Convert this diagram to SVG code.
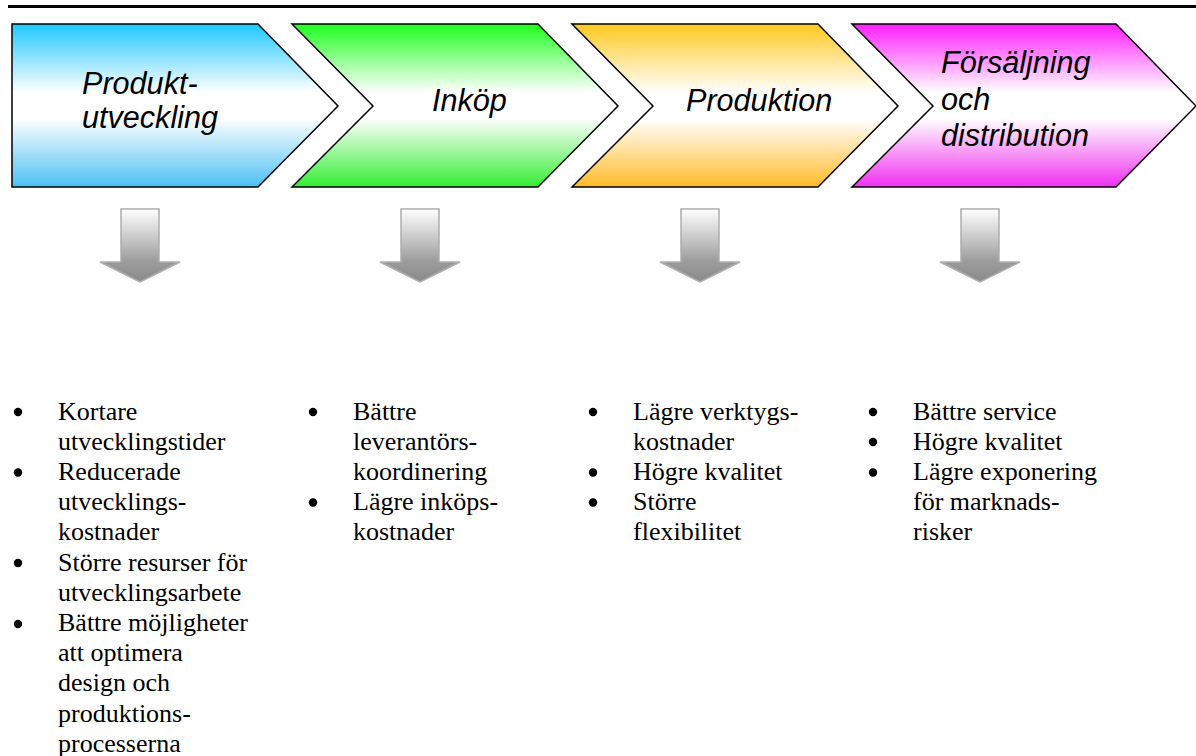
<svg xmlns="http://www.w3.org/2000/svg" width="1196" height="756" viewBox="0 0 1196 756">
<defs>
<linearGradient id="gBlue" x1="0" y1="0" x2="0" y2="1">
<stop offset="0" stop-color="#1ec8ff"/><stop offset="0.42" stop-color="#ffffff"/><stop offset="0.58" stop-color="#ffffff"/><stop offset="1" stop-color="#4cc0f4"/>
</linearGradient>
<linearGradient id="gGreen" x1="0" y1="0" x2="0" y2="1">
<stop offset="0" stop-color="#1eff1e"/><stop offset="0.42" stop-color="#ffffff"/><stop offset="0.58" stop-color="#ffffff"/><stop offset="1" stop-color="#33ee33"/>
</linearGradient>
<linearGradient id="gOrange" x1="0" y1="0" x2="0" y2="1">
<stop offset="0" stop-color="#ffc81e"/><stop offset="0.42" stop-color="#ffffff"/><stop offset="0.58" stop-color="#ffffff"/><stop offset="1" stop-color="#ffbb2a"/>
</linearGradient>
<linearGradient id="gMagenta" x1="0" y1="0" x2="0" y2="1">
<stop offset="0" stop-color="#ff1eff"/><stop offset="0.42" stop-color="#ffffff"/><stop offset="0.58" stop-color="#ffffff"/><stop offset="1" stop-color="#f030f0"/>
</linearGradient>
<linearGradient id="gArrow" x1="0" y1="0" x2="0" y2="1">
<stop offset="0" stop-color="#ffffff"/><stop offset="0.72" stop-color="#9c9c9c"/><stop offset="1" stop-color="#8a8a8a"/>
</linearGradient>
<path id="arrowShape" d="M-19,0 H19 V53 H40 L0,73 L-40,53 H-19 Z"/>
</defs>
<style>
.chev{stroke:#000;stroke-width:1.5;stroke-linejoin:miter}
.title{font-family:"Liberation Sans",Arial,sans-serif;font-style:italic;font-size:30.6px;fill:#000}
.arrow{fill:url(#gArrow);stroke:#adadad;stroke-width:1.5}
.list{font-family:"Liberation Serif","Times New Roman",serif;font-size:26px;fill:#000}
.dot{fill:#000}
</style>
<rect width="1196" height="756" fill="#fff"/>
<line x1="8" y1="6.5" x2="1196" y2="6.5" stroke="#000" stroke-width="3"/>

<g id="step1">
<path class="chev" fill="url(#gBlue)" d="M12,24 H258 L338,106 L258,187 H12 Z"/>
<text class="title" x="82" y="94">Produkt-</text>
<text class="title" x="82" y="128">utveckling</text>
</g>
<g id="step2">
<path class="chev" fill="url(#gGreen)" d="M292,24 H538 L618,106 L538,187 H292 L373,106 Z"/>
<text class="title" x="432" y="111">Inköp</text>
</g>
<g id="step3">
<path class="chev" fill="url(#gOrange)" d="M572,24 H818 L898,106 L818,187 H572 L653,106 Z"/>
<text class="title" x="686" y="111">Produktion</text>
</g>
<g id="step4">
<path class="chev" fill="url(#gMagenta)" d="M852,24 H1116 L1196,106 L1116,187 H852 L933,106 Z"/>
<text class="title" x="941" y="73">Försäljning</text>
<text class="title" x="941" y="110">och</text>
<text class="title" x="941" y="146">distribution</text>
</g>

<g id="connectors">
<use href="#arrowShape" class="arrow" x="140" y="209"/>
<use href="#arrowShape" class="arrow" x="420" y="209"/>
<use href="#arrowShape" class="arrow" x="700" y="209"/>
<use href="#arrowShape" class="arrow" x="980" y="209"/>
</g>

<g id="list1">
<circle class="dot" cx="18" cy="412" r="4.2"/>
<circle class="dot" cx="18" cy="472.5" r="4.2"/>
<circle class="dot" cx="18" cy="563" r="4.2"/>
<circle class="dot" cx="18" cy="624" r="4.2"/>
<text class="list" x="58" y="419.5">Kortare</text>
<text class="list" x="58" y="449.7">utvecklingstider</text>
<text class="list" x="58" y="479.9">Reducerade</text>
<text class="list" x="58" y="510.1">utvecklings-</text>
<text class="list" x="58" y="540.3">kostnader</text>
<text class="list" x="58" y="570.5">Större resurser för</text>
<text class="list" x="58" y="600.7">utvecklingsarbete</text>
<text class="list" x="58" y="630.9">Bättre möjligheter</text>
<text class="list" x="58" y="661.1">att optimera</text>
<text class="list" x="58" y="691.3">design och</text>
<text class="list" x="58" y="721.5">produktions-</text>
<text class="list" x="58" y="751.7">processerna</text>
</g>
<g id="list2">
<circle class="dot" cx="313" cy="412" r="4.2"/>
<circle class="dot" cx="313" cy="502.5" r="4.2"/>
<text class="list" x="353" y="419.5">Bättre</text>
<text class="list" x="353" y="449.7">leverantörs-</text>
<text class="list" x="353" y="479.9">koordinering</text>
<text class="list" x="353" y="510.1">Lägre inköps-</text>
<text class="list" x="353" y="540.3">kostnader</text>
</g>
<g id="list3">
<circle class="dot" cx="593" cy="412" r="4.2"/>
<circle class="dot" cx="593" cy="472.5" r="4.2"/>
<circle class="dot" cx="593" cy="502.5" r="4.2"/>
<text class="list" x="633" y="419.5">Lägre verktygs-</text>
<text class="list" x="633" y="449.7">kostnader</text>
<text class="list" x="633" y="479.9">Högre kvalitet</text>
<text class="list" x="633" y="510.1">Större</text>
<text class="list" x="633" y="540.3">flexibilitet</text>
</g>
<g id="list4">
<circle class="dot" cx="873" cy="412" r="4.2"/>
<circle class="dot" cx="873" cy="442" r="4.2"/>
<circle class="dot" cx="873" cy="472.5" r="4.2"/>
<text class="list" x="913" y="419.5">Bättre service</text>
<text class="list" x="913" y="449.7">Högre kvalitet</text>
<text class="list" x="913" y="479.9">Lägre exponering</text>
<text class="list" x="913" y="510.1">för marknads-</text>
<text class="list" x="913" y="540.3">risker</text>
</g>
</svg>
